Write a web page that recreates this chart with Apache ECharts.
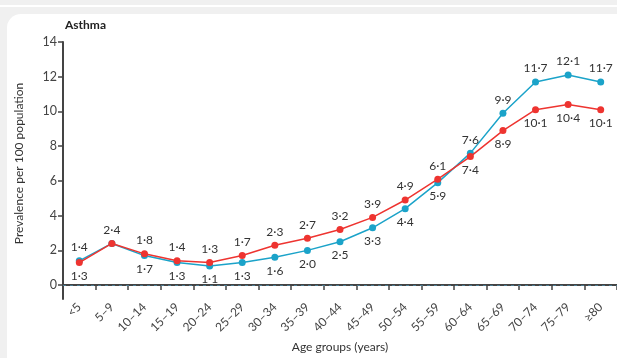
<!DOCTYPE html>
<html>
<head>
<meta charset="utf-8">
<script src="https://cdn.jsdelivr.net/npm/echarts@6/dist/echarts.min.js"></script>
<style>
html,body{margin:0;padding:0;background:#f0f0f0;}
#c{width:617px;height:358px;}
</style>
</head>
<body>
<div id="c"></div>
<script>
const categories = ['<5','5–9','10–14','15–19','20–24','25–29','30–34','35–39','40–44','45–49','50–54','55–59','60–64','65–69','70–74','75–79','≥80'];
const blueValues = [1.4,2.4,1.7,1.3,1.1,1.3,1.6,2.0,2.5,3.3,4.4,5.9,7.6,9.9,11.7,12.1,11.7];
const redValues  = [1.3,2.4,1.8,1.4,1.3,1.7,2.3,2.7,3.2,3.9,4.9,6.1,7.4,8.9,10.1,10.4,10.1];
const yTicks = [0,2,4,6,8,10,12,14];

const FONT = 'Lato, "Open Sans", sans-serif';
const BLUE = '#1ba3c9';
const RED = '#ee3430';
const fmt = v => v.toFixed(1).replace('.', '·');

function buildData(vals, other, isRed) {
  return vals.map((v, i) => {
    const o = other[i];
    let pos, show = true;
    if (v > o) pos = 'top';
    else if (v < o) pos = 'bottom';
    else { pos = 'top'; show = isRed; }
    return { value: v, label: { show: show, position: pos } };
  });
}

const chart = echarts.init(document.getElementById('c'), null, {renderer: 'canvas'});
const labelStyle = {
  show: true, formatter: p => fmt(p.value), fontFamily: FONT, fontSize: 12, color: '#333', distance: 4
};
chart.setOption({
  animation: false,
  backgroundColor: '#f0f0f0',
  graphic: [
    { type: 'rect', left: 0, top: 5, shape: { width: 617, height: 2 }, style: { fill: '#ffffff' }, z: -10 },
    { type: 'rect', left: 7, top: 14, shape: { width: 640, height: 380, r: [14, 0, 0, 0] }, style: { fill: '#ffffff' }, z: -10 }
  ],
  title: {
    text: 'Asthma', left: 60, top: 14,
    textStyle: { fontFamily: FONT, fontSize: 12, fontWeight: 'bold', color: '#222' }
  },
  grid: { left: 63, top: 42, width: 561, height: 261 },
  xAxis: {
    type: 'category', data: categories, boundaryGap: true,
    name: 'Age groups (years)', nameLocation: 'middle', nameGap: 42,
    nameTextStyle: { fontFamily: FONT, fontSize: 12, color: '#333' },
    axisLine: { lineStyle: { color: '#444', width: 2 } },
    axisTick: { show: true, length: 5, lineStyle: { color: '#444', width: 1.5 } },
    axisLabel: { rotate: 45, fontFamily: FONT, fontSize: 12, color: '#444', margin: 6, interval: 0 }
  },
  yAxis: {
    type: 'value', min: -0.8, max: 14,
    name: 'Prevalence per 100 population', nameLocation: 'middle', nameGap: 38,
    nameTextStyle: { fontFamily: FONT, fontSize: 12, color: '#333', padding: [0, 0, 0, 14] },
    axisLine: { show: true, lineStyle: { color: '#444', width: 2 } },
    axisTick: { show: true, length: 5, customValues: yTicks, lineStyle: { color: '#444', width: 1.5 } },
    axisLabel: { customValues: yTicks, fontFamily: FONT, fontSize: 12.5, color: '#444', margin: 6 },
    splitLine: { show: false }
  },
  series: [
    {
      name: 'blue', type: 'line', data: buildData(blueValues, redValues, false),
      color: BLUE, symbol: 'circle', symbolSize: 7, lineStyle: { width: 1.5, color: BLUE },
      itemStyle: { color: BLUE }, label: labelStyle, z: 2,
      markLine: {
        silent: true, symbol: 'none', label: { show: false }, z: 1,
        lineStyle: { type: [3, 4], color: '#4a7a90', width: 1 },
        data: [{ yAxis: 0 }]
      }
    },
    {
      name: 'red', type: 'line', data: buildData(redValues, blueValues, true),
      color: RED, symbol: 'circle', symbolSize: 7, lineStyle: { width: 1.5, color: RED },
      itemStyle: { color: RED }, label: labelStyle, z: 3
    }
  ]
});
</script>
</body>
</html>
